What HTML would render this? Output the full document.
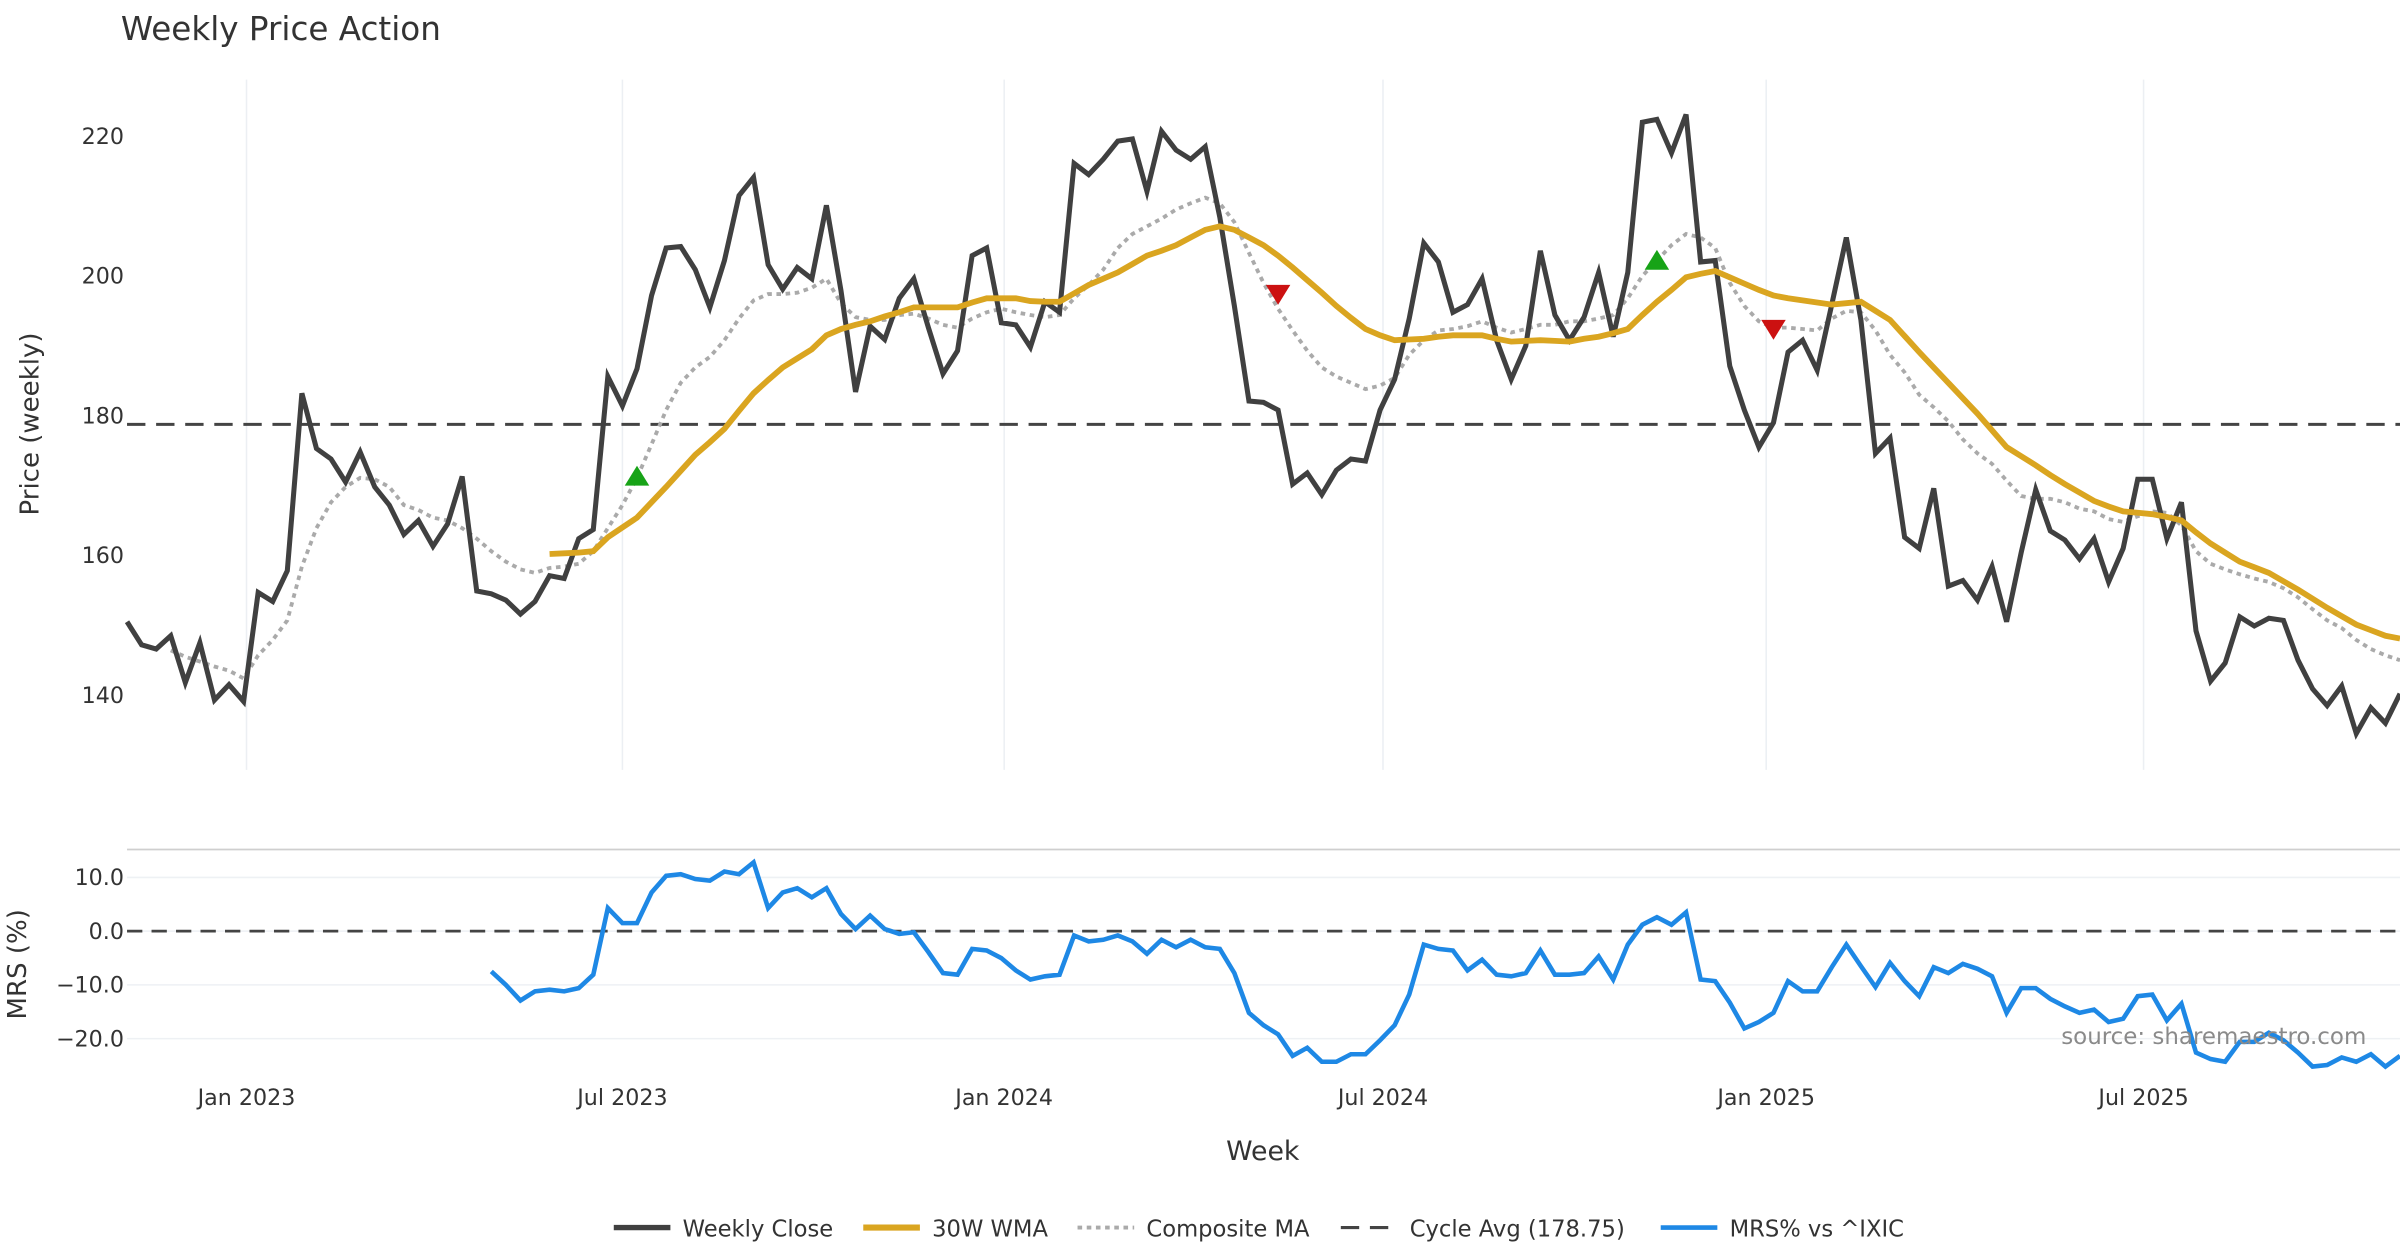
<!DOCTYPE html>
<html><head><meta charset="utf-8"><title>Weekly Price Action</title>
<style>
html,body{margin:0;padding:0;background:#fff;}
svg{display:block;font-family:"DejaVu Sans","Liberation Sans",sans-serif;}
</style></head>
<body>
<svg id="chart" width="2400" height="1260" viewBox="0 0 1568 823.2" preserveAspectRatio="none" xmlns="http://www.w3.org/2000/svg">
<rect x="0" y="0" width="1568" height="823.2" fill="#fff"/>
<text x="79" y="26" font-size="21.3" fill="#333">Weekly Price Action</text>
<g id="grid"></g>
<g id="price"></g>
<g id="mrs"></g>
<g id="axes"></g>
<text transform="translate(25,277) rotate(-90)" text-anchor="middle" font-size="17" fill="#333">Price (weekly)</text>
<text transform="translate(17,630) rotate(-90)" text-anchor="middle" font-size="17" fill="#333">MRS (%)</text>
<text x="825" y="758" text-anchor="middle" font-size="17.5" fill="#333">Week</text>
<text x="1546" y="682" text-anchor="end" font-size="15" fill="#8a8a8a">source: sharemaestro.com</text>
<g font-size="14.8" fill="#333">
  <g><line x1="401" y1="802" x2="438" y2="802" stroke="#404040" stroke-width="3.5"/><text x="446" y="808">Weekly Close</text></g>
  <g><line x1="564" y1="802" x2="601" y2="802" stroke="#DAA520" stroke-width="4"/><text x="609" y="808">30W WMA</text></g>
  <g><line x1="704" y1="802" x2="741" y2="802" stroke="#aaa" stroke-width="2.5" stroke-dasharray="3,3"/><text x="749" y="808">Composite MA</text></g>
  <g><line x1="876" y1="802" x2="913" y2="802" stroke="#444" stroke-width="2" stroke-dasharray="12,7"/><text x="921" y="808">Cycle Avg (178.75)</text></g>
  <g><line x1="1085" y1="802" x2="1122" y2="802" stroke="#1E88E5" stroke-width="3"/><text x="1130" y="808">MRS% vs ^IXIC</text></g>
</g>
</svg>
<script>
const closeVals=[150.5,147.2,146.6,148.5,141.8,147.5,139.3,141.5,139.1,154.7,153.4,157.8,183.2,175.3,173.8,170.5,174.8,169.8,167.2,163,165,161.3,164.5,171.3,154.9,154.5,153.6,151.6,153.4,157.1,156.7,162.4,163.7,185.6,181.4,186.7,197.2,204,204.2,200.9,195.5,202.2,211.5,214.1,201.6,198.1,201.2,199.6,210.1,197.9,183.4,192.8,190.9,196.8,199.6,192.6,186,189.3,202.9,204,193.3,193,189.8,196.3,194.8,216.1,214.5,216.7,219.3,219.6,212.1,220.7,218,216.7,218.5,208.4,195.7,182.1,181.9,180.8,170.2,171.8,168.7,172.2,173.8,173.5,180.8,185.2,193.9,204.7,202,194.8,195.9,199.6,190.8,185.2,190,203.6,194.4,190.8,194.1,200.5,191.3,200.5,222,222.4,217.6,223.1,202,202.2,187.1,180.8,175.5,179,189.1,190.8,186.5,195.9,205.5,193.7,174.6,176.8,162.6,161,169.6,155.6,156.4,153.6,158.4,150.5,160.4,169.4,163.5,162.2,159.5,162.4,156.2,161,170.9,170.9,162.4,167.6,149.2,142,144.6,151.2,149.9,151,150.7,145,140.9,138.5,141.3,134.5,138.2,136,140.2];
const wmaVals=[null,null,null,null,null,null,null,null,null,null,null,null,null,null,null,null,null,null,null,null,null,null,null,null,null,null,null,null,null,160.2,160.3,160.4,160.6,162.6,164,165.4,167.6,169.8,172.1,174.4,176.2,178.1,180.7,183.2,185.1,186.9,188.2,189.5,191.5,192.4,193,193.5,194.2,194.8,195.5,195.5,195.5,195.5,196.2,196.8,196.8,196.8,196.4,196.3,196.3,197.5,198.7,199.6,200.5,201.7,202.9,203.6,204.4,205.5,206.6,207.1,206.6,205.5,204.4,202.9,201.2,199.4,197.6,195.7,194,192.4,191.5,190.8,190.9,191,191.3,191.5,191.5,191.5,191,190.6,190.7,190.8,190.7,190.6,191,191.3,191.8,192.4,194.4,196.3,198,199.8,200.3,200.7,199.8,198.9,198,197.2,196.8,196.5,196.2,195.9,196.1,196.3,195,193.7,191.4,189.1,186.9,184.7,182.5,180.3,177.9,175.5,174.2,172.9,171.5,170.2,169,167.8,167,166.3,166.1,165.9,165.5,165,163.3,161.7,160.4,159.1,158.3,157.5,156.3,155.1,153.8,152.5,151.3,150.1,149.3,148.5,148.1];
const compVals=[null,null,null,146.4,145.5,144.8,144.1,143.5,142.4,145.7,147.9,150.7,158.4,163.9,167.6,169.8,171.1,170.9,169.8,167.2,166.5,165.4,165,163.9,162.4,160.6,159.1,158,157.5,158.2,158.4,158.8,160.6,163.9,167.2,171.1,175.9,180.8,184.7,186.9,188.4,190.8,193.9,196.5,197.4,197.4,197.6,198.3,199.6,196.1,194.1,193.7,193.7,194.4,194.6,193.9,193,192.6,193.9,194.8,195.3,194.8,194.4,194.1,194.4,196.8,198.7,200.9,204,206,207.1,208.2,209.5,210.4,211.2,210.4,207.7,203.3,199,195.3,192.2,189.3,186.9,185.6,184.7,183.8,184.3,185.4,188.7,190.8,192.2,192.4,192.8,193.5,192.6,191.9,192.4,193,193,193.5,193.5,193.9,194.4,196.8,200,202.2,204.4,206,205.5,204,199,195.7,193.5,192.6,192.6,192.4,192.2,193.9,195,194.8,192.2,188.7,186.2,183,181.2,179.2,176.6,174.6,173.1,170.7,168.5,168.1,168.1,167.6,166.7,166.3,165.2,164.8,165.6,166.3,166.1,164.3,160.6,158.8,158,157.3,156.7,156.2,155.3,154,152.3,150.7,149.6,147.9,146.6,145.7,145];
const mrsVals=[null,null,null,null,null,null,null,null,null,null,null,null,null,null,null,null,null,null,null,null,null,null,null,null,null,-7.5,-10,-12.9,-11.2,-10.9,-11.2,-10.6,-8.1,4.3,1.5,1.5,7.2,10.3,10.6,9.7,9.4,11.1,10.6,12.8,4.3,7.2,8,6.3,8,3.2,0.4,2.9,0.4,-0.5,-0.2,-3.9,-7.8,-8.1,-3.3,-3.6,-5,-7.3,-9,-8.4,-8.1,-0.8,-1.9,-1.6,-0.8,-1.9,-4.2,-1.6,-3,-1.6,-3,-3.3,-7.8,-15.2,-17.5,-19.2,-23.2,-21.7,-24.3,-24.3,-22.9,-22.9,-20.3,-17.5,-11.8,-2.5,-3.3,-3.6,-7.3,-5.3,-8.1,-8.4,-7.8,-3.6,-8.1,-8.1,-7.8,-4.7,-9,-2.5,1.2,2.6,1.2,3.5,-9,-9.3,-13.3,-18.1,-16.9,-15.2,-9.3,-11.2,-11.2,-6.7,-2.5,-6.5,-10.4,-5.9,-9.3,-12.1,-6.7,-7.8,-6.1,-7,-8.4,-15.2,-10.6,-10.6,-12.6,-14,-15.2,-14.6,-16.9,-16.3,-12.1,-11.8,-16.6,-13.5,-22.6,-23.8,-24.3,-20.6,-20.6,-18.9,-20.3,-22.6,-25.2,-24.9,-23.5,-24.3,-22.9,-25.2,-23.2];
const buyIdx=[35,105];
const buyVals=[171.3,202.2];
const sellIdx=[79,113];
const sellVals=[197.4,192.4];
const cycleAvg=178.75;
const priceTicks=[140,160,180,200,220];
const mrsTicks=[10,0,-10,-20];
const mrsTickLabels=["10.0","0.0","\u221210.0","\u221220.0"];
const dateTickIdx=[8.2,34,60.2,86.2,112.5,138.4];
const dateTickLabels=["Jan 2023","Jul 2023","Jan 2024","Jul 2024","Jan 2025","Jul 2025"];

const NS="http://www.w3.org/2000/svg";
const X0=83,X1=1568;
const P_TOP=52,P_BOT=503,P_MIN=129.3,P_MAX=228.1;
const M_TOP=555,M_BOT=700,M_MIN=-26.1,M_MAX=15.2;
const N=closeVals.length;
function xS(i){return X0+(X1-X0)*i/(N-1);}
function yP(v){return P_BOT-(v-P_MIN)/(P_MAX-P_MIN)*(P_BOT-P_TOP);}
function yM(v){return M_BOT-(v-M_MIN)/(M_MAX-M_MIN)*(M_BOT-M_TOP);}
function mk(tag,attrs,parent){const e=document.createElementNS(NS,tag);for(const k in attrs)e.setAttribute(k,attrs[k]);parent.appendChild(e);return e;}
function pathFor(arr,ys){let d="",pen=false;arr.forEach((v,i)=>{if(v===null||v===undefined){pen=false;return;}d+=(pen?"L":"M")+xS(i).toFixed(2)+","+ys(v).toFixed(2);pen=true;});return d;}

const grid=document.getElementById('grid'),price=document.getElementById('price'),mrs=document.getElementById('mrs'),axes=document.getElementById('axes');
dateTickIdx.forEach((t,k)=>{
  const g1=mk('line',{x1:xS(t),x2:xS(t),y1:P_TOP,y2:P_BOT,stroke:'#eceff3','stroke-width':1},grid);
  
  
  const lb=mk('text',{x:xS(t),y:722,'text-anchor':'middle','font-size':14.5,fill:'#333'},axes);
  lb.textContent=dateTickLabels[k];
  
  
});
priceTicks.forEach(v=>{
  const lb=mk('text',{x:81,y:yP(v)+5,'text-anchor':'end','font-size':14.5,fill:'#333'},axes);
  lb.textContent=String(v);
  
  
});
mrsTicks.forEach((v,k)=>{
  const gl=mk('line',{x1:X0,x2:X1,y1:yM(v),y2:yM(v),stroke:'#eef1f4','stroke-width':1},grid);
  
  
  const lb=mk('text',{x:81,y:yM(v)+5,'text-anchor':'end','font-size':14.5,fill:'#333'},axes);
  lb.textContent=mrsTickLabels[k];
  
  
});
const sep=mk('line',{x1:X0,x2:X1,y1:M_TOP,y2:M_TOP,stroke:'#cfcfcf','stroke-width':1.2},grid);



const cyc=mk('line',{x1:X0,x2:X1,y1:yP(cycleAvg),y2:yP(cycleAvg),stroke:'#444','stroke-width':2,'stroke-dasharray':'12,7'},price);


const comp=mk('path',{d:pathFor(compVals,yP),fill:'none',stroke:'#aaa','stroke-width':2.5,'stroke-dasharray':'3,3'},price);


const cl=mk('path',{d:pathFor(closeVals,yP),fill:'none',stroke:'#404040','stroke-width':3.3,'stroke-linejoin':'miter'},price);


const wma=mk('path',{d:pathFor(wmaVals,yP),fill:'none',stroke:'#DAA520','stroke-width':3.8},price);


buyIdx.forEach((i,k)=>{const x=xS(i),y=yP(buyVals[k]);
  const t=mk('polygon',{points:`${x-8},${y+6} ${x+8},${y+6} ${x},${y-7}`,fill:'#17a317'},price);
  
  
});
sellIdx.forEach((i,k)=>{const x=xS(i),y=yP(sellVals[k]);
  const t=mk('polygon',{points:`${x-8},${y-6} ${x+8},${y-6} ${x},${y+7}`,fill:'#cc1111'},price);
  
  
});
const zero=mk('line',{x1:X0,x2:X1,y1:yM(0),y2:yM(0),stroke:'#444','stroke-width':1.8,'stroke-dasharray':'10,6'},mrs);


const ml=mk('path',{d:pathFor(mrsVals,yM),fill:'none',stroke:'#1E88E5','stroke-width':3},mrs);


</script>
</body></html>
